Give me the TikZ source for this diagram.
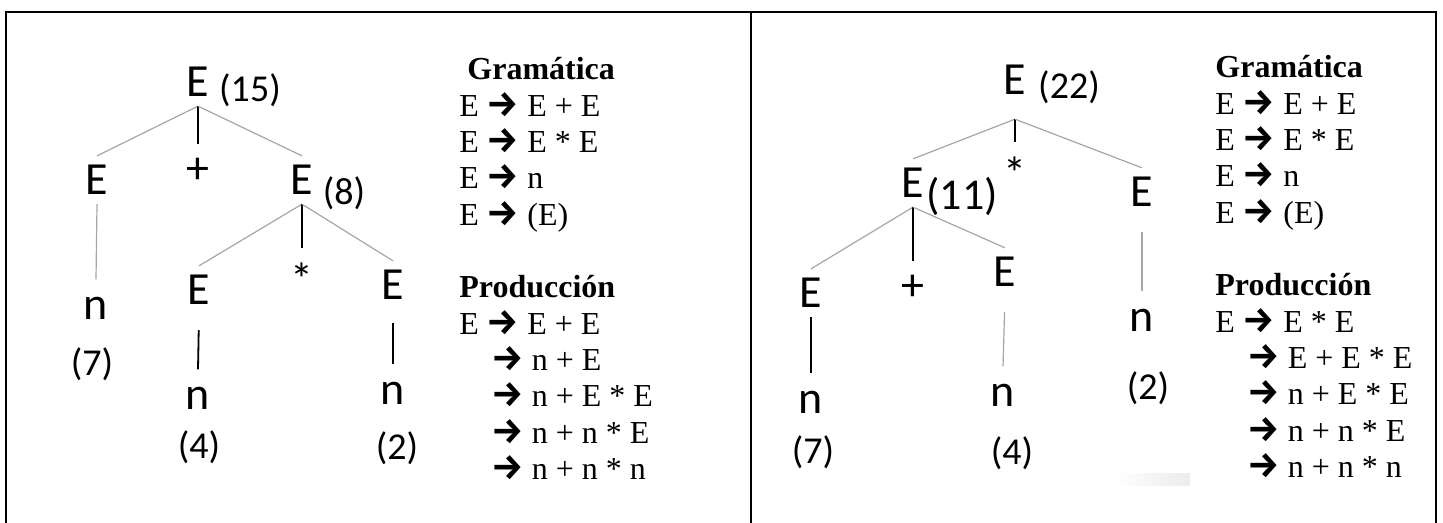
\documentclass[tikz,border=0pt]{standalone}
\usepackage{fontspec}
\setmainfont{Liberation Serif}
\newfontfamily\treefont{Carlito}
\newfontfamily\arrowfont{Fira Sans}
\newcommand\flecha{{\arrowfont\bfseries\fontsize{18}{18}\selectfont →}}

\tikzset{
  sym/.style={font=\treefont\fontsize{23}{23}\selectfont, inner sep=4.5pt},
  op/.style={sym, inner sep=7pt},
  leaf/.style={sym, inner sep=8.5pt},
  num/.style={font=\treefont\fontsize{19}{19}\selectfont, inner sep=0pt},
  rama/.style={gray!70, line width=0.6pt},
  tallo/.style={black, line width=0.9pt},
  linea/.style={anchor=base west, inner sep=0pt, font=\fontsize{16}{16}\selectfont},
  marco/.style={line width=1pt}
}

\begin{document}
\begin{tikzpicture}[x=0.5pt, y=-0.5pt]
  \useasboundingbox (0,0) rectangle (1443,523);

  % Marco
  \draw[marco] (6,523) -- (6,12) -- (1436,12) -- (1436,523);
  \draw[marco] (751,12) -- (751,523);

  % Arbol izquierdo
  \node[sym] (tE) at (198,82) {E};
  \node[num] (tv15) at (250,90) {(15)};
  \node[sym] (tEa) at (97,180) {E};
  \node[op] (tMas) at (198,171) {+};
  \node[sym] (tEb) at (302,180) {E};
  \node[num] (tv8) at (344,193) {(8)};
  \node[leaf] (tNa) at (96,308) {n};
  \node[num] (tv7) at (92,364) {(7)};
  \node[sym] (tEc) at (199,290) {E};
  \node[op] (tPor) at (302,279) {*};
  \node[sym] (tEd) at (393,285) {E};
  \node[leaf] (tNc) at (198,398) {n};
  \node[num] (tv4) at (199,447) {(4)};
  \node[leaf] (tNd) at (393,393) {n};
  \node[num] (tv2) at (397,448) {(2)};

  \draw[rama] (tE.south) -- (tEa.north);
  \draw[tallo] (tE.south) -- (tMas.north);
  \draw[rama] (tE.south) -- (tEb.north);
  \draw[rama] (tEa.south) -- (tNa.north);
  \draw[rama] (tEb.south) -- (tEc.north);
  \draw[tallo] (tEb.south) -- (tPor.north);
  \draw[rama] (tEb.south) -- (tEd.north);
  \draw[tallo, shorten <=8pt] (tEc.south) -- (tNc.north);
  \draw[tallo, shorten <=7pt] (tEd.south) -- (tNd.north);

  % Gramatica y produccion izquierda
  \foreach \k/\x/\t in {0/467/{\bfseries Gramática},
      1/459/{E \flecha{} E + E}, 2/459/{E \flecha{} E * E},
      3/459/{E \flecha{} n}, 4/459/{E \flecha{} (E)},
      6/459/{\bfseries Producción}, 7/459/{E \flecha{} E + E},
      8/491/{\flecha{} n + E}, 9/491/{\flecha{} n + E * E},
      10/491/{\flecha{} n + n * E}, 11/491/{\flecha{} n + n * n}}
    \node[linea] (izq\k) at (\x,{80+36.3*\k}) {\t};

  % Arbol derecho
  \node[sym, inner ysep=12pt] (uE) at (1015,80) {E};
  \node[num] (uv22) at (1069,87) {(22)};
  \node[sym] (uEa) at (913,183) {E};
  \node[num, font=\treefont\fontsize{22}{22}\selectfont] (uv11) at (962,196) {(11)};
  \node[op] (uPor) at (1015,173) {*};
  \node[sym] (uEb) at (1142,192) {E};
  \node[sym] (uEc) at (811,293) {E};
  \node[op] (uMas) at (913,288) {+};
  \node[sym] (uEd) at (1005,272) {E};
  \node[leaf] (uNc) at (811,402) {n};
  \node[num] (uv7) at (813,452) {(7)};
  \node[leaf] (uNd) at (1003,395) {n};
  \node[num] (uv4) at (1012,453) {(4)};
  \node[leaf] (uNb) at (1142,320) {n};
  \node[num] (uv2) at (1148,388) {(2)};

  \draw[rama] (uE.south) -- (uEa.north);
  \draw[tallo] (uE.south) -- (uPor.north);
  \draw[rama] (uE.south) -- (uEb.north);
  \draw[rama] (uEa.south) -- (uEc.north);
  \draw[tallo] (uEa.south) -- (uMas.north);
  \draw[rama] (uEa.south) -- (uEd.north);
  \draw[tallo] (uEc.south) -- (uNc.north);
  \draw[rama, shorten <=8pt] (uEd.south) -- (uNd.north);
  \draw[rama, shorten <=8pt] (uEb.south) -- (uNb.north);

  \shade[left color=white, right color=gray!15] (1112,473) rectangle (1190,485);

  % Gramatica y produccion derecha
  \foreach \k/\x/\t in {0/1215/{\bfseries Gramática},
      1/1215/{E \flecha{} E + E}, 2/1215/{E \flecha{} E * E},
      3/1215/{E \flecha{} n}, 4/1215/{E \flecha{} (E)},
      6/1215/{\bfseries Producción}, 7/1215/{E \flecha{} E * E},
      8/1247/{\flecha{} E + E * E}, 9/1247/{\flecha{} n + E * E},
      10/1247/{\flecha{} n + n * E}, 11/1247/{\flecha{} n + n * n}}
    \node[linea] (der\k) at (\x,{78+36.3*\k}) {\t};
\end{tikzpicture}
\end{document}
